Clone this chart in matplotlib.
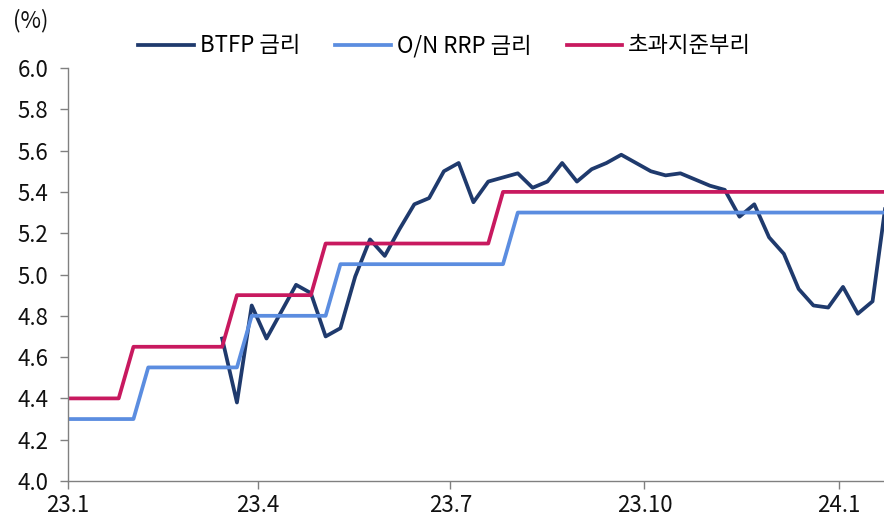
import datetime as dt

import matplotlib
matplotlib.use("Agg")
import matplotlib.pyplot as plt
import numpy as np
import pandas as pd

plt.rcParams['font.family'] = ['Noto Sans CJK KR', 'DejaVu Sans']

# weekly (Wednesday) observations
dates = pd.date_range("2022-12-28", "2024-01-24", freq="7D")

# 초과지준부리 (IORB)
iorb = [4.40, 4.40, 4.40, 4.40, 4.40,
        4.65, 4.65, 4.65, 4.65, 4.65, 4.65, 4.65,
        4.90, 4.90, 4.90, 4.90, 4.90, 4.90,
        5.15, 5.15, 5.15, 5.15, 5.15, 5.15, 5.15, 5.15, 5.15, 5.15, 5.15, 5.15,
        5.40, 5.40, 5.40, 5.40, 5.40, 5.40, 5.40, 5.40, 5.40, 5.40, 5.40, 5.40,
        5.40, 5.40, 5.40, 5.40, 5.40, 5.40, 5.40, 5.40, 5.40, 5.40, 5.40, 5.40,
        5.40, 5.40, 5.40]

# O/N RRP 금리
onrrp = [4.30, 4.30, 4.30, 4.30, 4.30, 4.30,
         4.55, 4.55, 4.55, 4.55, 4.55, 4.55, 4.55,
         4.80, 4.80, 4.80, 4.80, 4.80, 4.80,
         5.05, 5.05, 5.05, 5.05, 5.05, 5.05, 5.05, 5.05, 5.05, 5.05, 5.05, 5.05,
         5.30, 5.30, 5.30, 5.30, 5.30, 5.30, 5.30, 5.30, 5.30, 5.30, 5.30, 5.30,
         5.30, 5.30, 5.30, 5.30, 5.30, 5.30, 5.30, 5.30, 5.30, 5.30, 5.30, 5.30,
         5.30, 5.30]

# BTFP 금리 (program starts mid-March 2023)
btfp = [np.nan] * 11 + [
    4.69, 4.38, 4.85, 4.69, 4.82, 4.95, 4.91, 4.70, 4.74, 4.99,
    5.17, 5.09, 5.22, 5.34, 5.37, 5.50, 5.54, 5.35, 5.45, 5.47,
    5.49, 5.42, 5.45, 5.54, 5.45, 5.51, 5.54, 5.58, 5.54, 5.50,
    5.48, 5.49, 5.46, 5.43, 5.41, 5.28, 5.34, 5.18, 5.10, 4.93,
    4.85, 4.84, 4.94, 4.81, 4.87, 5.40]

tick_dates = [dt.datetime(2023, 1, 1), dt.datetime(2023, 4, 1), dt.datetime(2023, 7, 1),
              dt.datetime(2023, 10, 1), dt.datetime(2024, 1, 1)]
tick_labels = ["23.1", "23.4", "23.7", "23.10", "24.1"]

NAVY = "#1F3A6D"
LIGHT = "#5B8DE0"
RED = "#C8195F"
GRAY = "#808080"
FS = 16

fig = plt.figure(figsize=(8.84, 5.2), dpi=100)
ax = fig.add_axes([68 / 884, 1 - 481 / 520, 1 - 68 / 884, (481 - 68) / 520])

ax.plot(dates, btfp, color=NAVY, linewidth=2.7, label="BTFP 금리")
ax.plot(dates, onrrp, color=LIGHT, linewidth=2.7, label="O/N RRP 금리")
ax.plot(dates, iorb, color=RED, linewidth=2.7, label="초과지준부리")

ax.set_xlim(dt.datetime(2023, 1, 1), dt.datetime(2024, 1, 22, 10))
ax.set_ylim(4.0, 6.0)
ax.set_yticks(np.arange(4.0, 6.01, 0.2))
ax.set_yticklabels([f"{v:.1f}" for v in np.arange(4.0, 6.01, 0.2)])
ax.set_xticks(tick_dates)
ax.set_xticklabels(tick_labels)

for s in ("top", "right"):
    ax.spines[s].set_visible(False)
for s in ("left", "bottom"):
    ax.spines[s].set_color(GRAY)
    ax.spines[s].set_linewidth(1.0)
ax.tick_params(axis="both", colors=GRAY, labelcolor="#111111", labelsize=FS,
               length=6, width=1.0, direction="out")
ax.tick_params(axis="y", pad=8)
ax.tick_params(axis="x", pad=3)

fig.text(13 / 884, 1 - 21 / 520, "(%)", fontsize=FS, va="center", ha="left", color="#111111")

fig.legend(loc="center", bbox_to_anchor=(0.503, 1 - 46 / 520), ncol=3, frameon=False,
           fontsize=FS, handlelength=2.5, handletextpad=0.25, columnspacing=1.6)

fig.savefig("out.png", dpi=100)
